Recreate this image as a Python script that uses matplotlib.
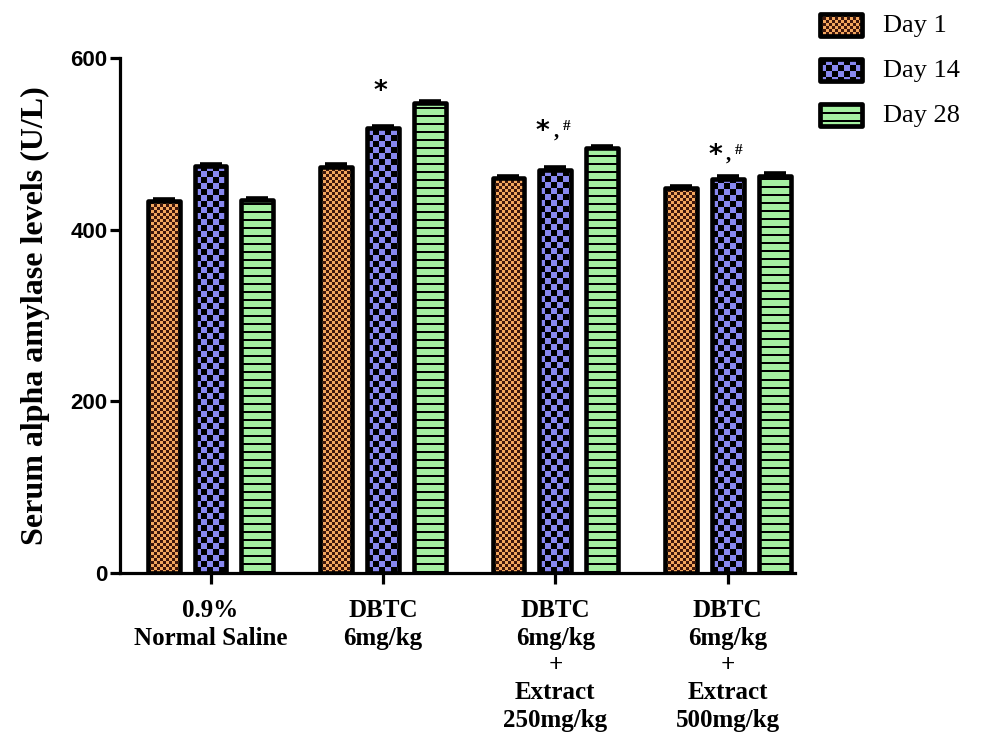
import numpy as np
import matplotlib
matplotlib.use("Agg")
import matplotlib.pyplot as plt
from matplotlib.patches import Rectangle

# ---- data -------------------------------------------------------------
groups = ["0.9%\nNormal Saline",
          "DBTC\n6mg/kg",
          "DBTC\n6mg/kg\n+\nExtract\n250mg/kg",
          "DBTC\n6mg/kg\n+\nExtract\n500mg/kg"]
series = ["Day 1", "Day 14", "Day 28"]
day1 = [433, 473, 460, 448]
day14 = [474, 518, 470, 459]
day28 = [434, 547, 495, 463]
sem_day1 = [3, 3, 3, 3]
sem_day14 = [3, 3, 3, 3]
sem_day28 = [3, 3, 3, 3]
sig_day14 = ["", "*", "*,#", "*,#"]
yticks = [0, 200, 400, 600]

values = [day1, day14, day28]
sems = [sem_day1, sem_day14, sem_day28]

# ---- fill patterns ----------------------------------------------------
styles = [
    dict(kind="checker", cell=3, light=(242, 166, 94), dark=(62, 22, 12)),
    dict(kind="checker", cell=6, light=(136, 136, 240), dark=(0, 0, 0)),
    dict(kind="stripes", cell=8, line=2, light=(164, 240, 160), dark=(0, 0, 0)),
]


def pattern(style, wpx, hpx):
    wpx, hpx = max(int(round(wpx)), 1), max(int(round(hpx)), 1)
    yy, xx = np.mgrid[0:hpx, 0:wpx]
    c = style["cell"]
    if style["kind"] == "checker":
        mask = ((xx // c) + (yy // c)) % 2 == 0
    else:
        mask = (yy % c) < style["line"]
    img = np.empty((hpx, wpx, 3), dtype=np.uint8)
    img[:] = style["light"]
    img[mask] = style["dark"]
    return img


def fill_patch(axis, patch, style, z):
    x0, y0 = patch.get_x(), patch.get_y()
    x1, y1 = x0 + patch.get_width(), y0 + patch.get_height()
    p0 = axis.transData.transform((x0, y0))
    p1 = axis.transData.transform((x1, y1))
    img = pattern(style, abs(p1[0] - p0[0]), abs(p1[1] - p0[1]))
    lo, hi = min(y0, y1), max(y0, y1)
    origin = "upper" if axis.yaxis_inverted() is False else "lower"
    im = axis.imshow(img, extent=(x0, x1, lo, hi), origin=origin,
                     interpolation="nearest", aspect="auto", zorder=z)
    im.set_clip_path(patch)


# ---- figure -----------------------------------------------------------
W, H = 981, 740
fig = plt.figure(figsize=(W / 100, H / 100), dpi=100)
ax = fig.add_axes([120 / W, 1 - 573 / H, (795 - 120) / W, (573 - 58) / H])
ax.set_xlim(-0.525, 3.39)
ax.set_ylim(0, 600)

x = np.arange(len(groups))
offset = 0.272
width = 0.185
lw_pt = 3.3

for i, (vals, err, st) in enumerate(zip(values, sems, styles)):
    pos = x + (i - 1) * offset
    bars = ax.bar(pos, vals, width, color=[c / 255 for c in st["light"]],
                  edgecolor="none", zorder=2)
    for b in bars:
        fill_patch(ax, b, st, 3)
    ax.bar(pos, vals, width, facecolor="none", edgecolor="black",
           linewidth=lw_pt, joinstyle="round", zorder=4)
    ax.errorbar(pos, vals, yerr=[[0] * len(vals), err], fmt="none",
                ecolor="black", elinewidth=2.2, capsize=8, capthick=2.6,
                zorder=5)

# significance marks over the Day 14 bars
sig_offsets = [0, 24, 25, 15]
for xi, v, e, lab, off in zip(x, day14, sem_day14, sig_day14, sig_offsets):
    if not lab:
        continue
    top = (xi, v + e)
    if lab == "*":
        ax.annotate("*", xy=top, xytext=(-2, off), textcoords="offset points",
                    ha="center", va="center", fontsize=19, fontweight="bold",
                    family="DejaVu Sans", zorder=6)
    else:
        ax.annotate("*", xy=top, xytext=(-9, off), textcoords="offset points",
                    ha="center", va="center", fontsize=19, fontweight="bold",
                    family="DejaVu Sans", zorder=6)
        ax.annotate(",", xy=top, xytext=(0.5, off - 3), textcoords="offset points",
                    ha="center", va="baseline", fontsize=15, fontweight="bold",
                    family="Liberation Serif", zorder=6)
        ax.annotate("#", xy=top, xytext=(8, off + 4), textcoords="offset points",
                    ha="center", va="center", fontsize=11, fontweight="bold",
                    family="Liberation Serif", zorder=6)

# axes styling
for s in ("top", "right"):
    ax.spines[s].set_visible(False)
for s in ("left", "bottom"):
    ax.spines[s].set_linewidth(2.3)
    ax.spines[s].set_capstyle("projecting")

ax.set_yticks(yticks)
ax.set_yticklabels([str(t) for t in yticks], fontsize=16, fontweight="bold",
                   family="Liberation Sans")
ax.set_xticks(x)
ax.set_xticklabels(groups, fontsize=18, fontweight="bold",
                   family="Liberation Serif", linespacing=1.24)
ax.tick_params(axis="y", length=7, width=2.3, pad=2)
ax.tick_params(axis="x", length=8, width=2.3, pad=11)
ax.set_ylabel("Serum alpha amylase levels (U/L)", fontsize=23,
              fontweight="bold", family="Liberation Serif", labelpad=15)

# ---- legend -----------------------------------------------------------
lax = fig.add_axes([0, 0, 1, 1], zorder=10)
lax.set_xlim(0, W)
lax.set_ylim(H, 0)
lax.axis("off")
rows = [25, 70, 115]
for name, st, yc in zip(series, styles, rows):
    sw = Rectangle((820, yc - 11), 42, 22, facecolor=[c / 255 for c in st["light"]],
                   edgecolor="none", zorder=1)
    lax.add_patch(sw)
    fill_patch(lax, sw, st, 2)
    lax.add_patch(Rectangle((820, yc - 11), 42, 22, facecolor="none",
                            edgecolor="black", linewidth=3.4, joinstyle="round",
                            zorder=3))
    lax.text(883, yc + 1, name, fontsize=19, family="Liberation Serif",
             va="center", ha="left")
lax.set_xlim(0, W)
lax.set_ylim(H, 0)

fig.savefig("out.png", dpi=100)
